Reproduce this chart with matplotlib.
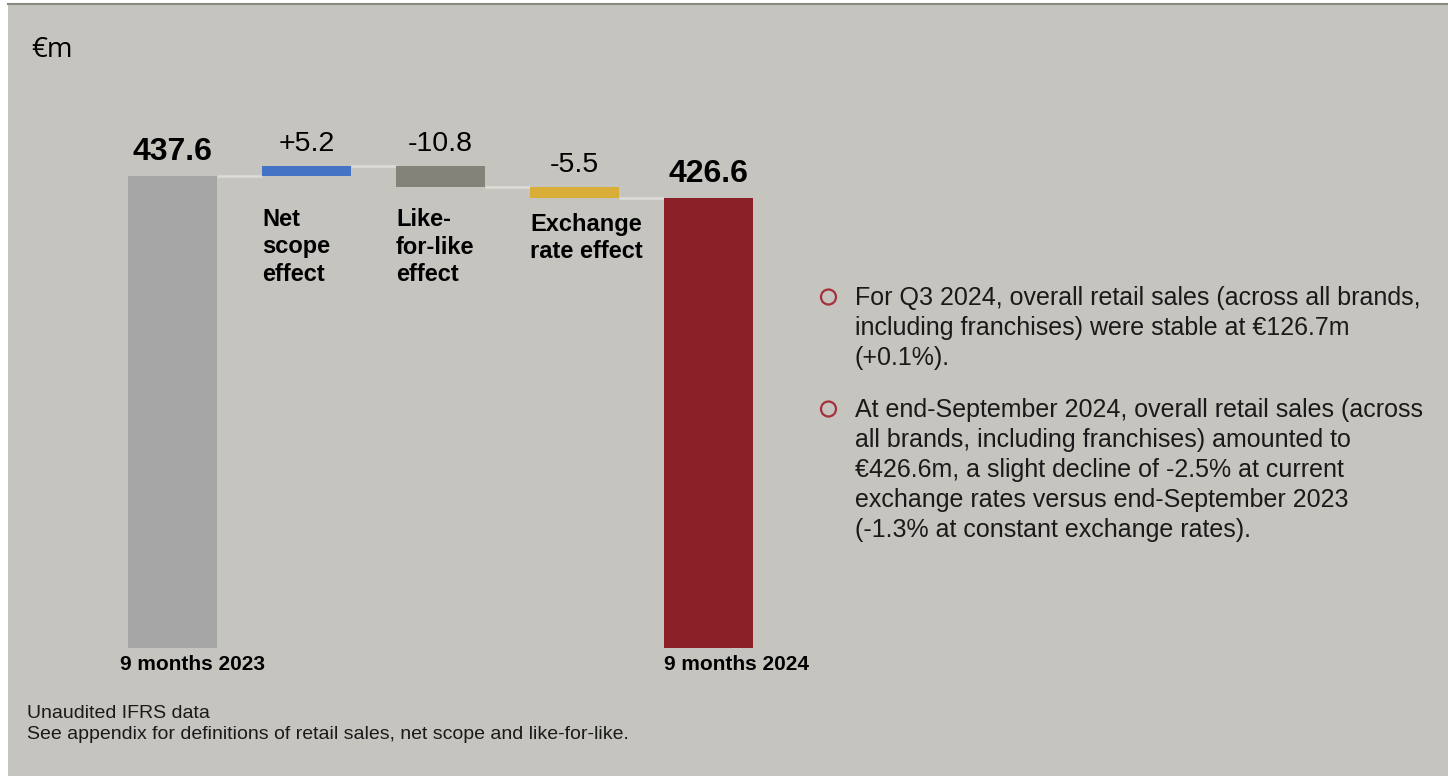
import matplotlib
matplotlib.use("Agg")
import matplotlib.pyplot as plt
from matplotlib.patches import Rectangle, Ellipse
from matplotlib.lines import Line2D
from matplotlib.transforms import blended_transform_factory

plt.rcParams['font.family'] = ['Liberation Sans', 'DejaVu Sans']

# Data (EUR m)
start_label = "9 months 2023"
end_label = "9 months 2024"
start_value = 437.6
end_value = 426.6
step_names = ["Net\nscope\neffect", "Like-\nfor-like\neffect", "Exchange\nrate effect"]
step_values = [5.2, -10.8, -5.5]
step_texts = ["+5.2", "-10.8", "-5.5"]
step_colors = ["#4472c4", "#84837a", "#d8ae36"]
bullets = [
    "For Q3 2024, overall retail sales (across all brands,\nincluding franchises) were stable at €126.7m\n(+0.1%).",
    "At end-September 2024, overall retail sales (across\nall brands, including franchises) amounted to\n€426.6m, a slight decline of -2.5% at current\nexchange rates versus end-September 2023\n(-1.3% at constant exchange rates).",
]
footnotes = ["Unaudited IFRS data",
             "See appendix for definitions of retail sales, net scope and like-for-like."]

W, H = 1448, 776
BG = "#c6c4bf"
fig = plt.figure(figsize=(W / 100, H / 100), dpi=100)
fig.patch.set_facecolor("white")

def fx(px):
    return px / W

def fy(py):
    return 1 - py / H

# slide background and top rule
fig.patches.append(Rectangle((fx(8), 0), 1 - fx(8), fy(5), transform=fig.transFigure,
                             facecolor=BG, edgecolor="none", zorder=-5))
fig.lines.append(Line2D([fx(8), 1], [fy(4), fy(4)], transform=fig.transFigure,
                        color="#858a7c", lw=1.5, zorder=-4))

# chart axes (value axis starts well above zero)
ax = fig.add_axes([fx(105.5), (H - 648) / H, fx(670), 548 / H])
ax.set_xlim(-0.5, 4.5)
ax.set_ylim(201.6, 475.6)
ax.axis("off")

bw = 0.665
x_pos = list(range(len(step_values) + 2))

# totals
ax.bar(x_pos[0], start_value, width=bw, color="#a6a6a6", zorder=2)
ax.bar(x_pos[-1], end_value, width=bw, color="#8b2029", zorder=2)

# steps
levels = [start_value]
for i, v in enumerate(step_values):
    base = levels[-1]
    ax.bar(x_pos[i + 1], v, bottom=base, width=bw, color=step_colors[i], zorder=2)
    levels.append(base + v)

# connectors
conn_levels = levels[:-1] + [end_value]
for i, lv in enumerate(conn_levels):
    ax.plot([x_pos[i] + bw / 2, x_pos[i + 1] - bw / 2], [lv, lv],
            color="#dedcd8", lw=1.8, zorder=1, solid_capstyle="butt")

# value labels
ax.annotate(f"{start_value:.1f}", (x_pos[0], start_value), xytext=(0, 6.5),
            textcoords="offset points", ha="center", va="bottom",
            fontsize=23, fontweight="bold", color="black")
ax.annotate(f"{end_value:.1f}", (x_pos[-1], end_value), xytext=(0, 6.5),
            textcoords="offset points", ha="center", va="bottom",
            fontsize=23, fontweight="bold", color="black")
for i, v in enumerate(step_values):
    top = max(levels[i], levels[i + 1])
    ax.annotate(step_texts[i], (x_pos[i + 1], top), xytext=(0, 6.5),
                textcoords="offset points", ha="center", va="bottom",
                fontsize=20.5, color="black")

# step category labels below bars
tr = blended_transform_factory(ax.transData, fig.transFigure)
label_tops = [208, 208, 213]
for i, name in enumerate(step_names):
    ax.text(x_pos[i + 1] - bw / 2, fy(label_tops[i]), name, transform=tr,
            ha="left", va="top", fontsize=17, fontweight="bold",
            linespacing=1.25, color="black")

# total labels below axis
fig.text(fx(120), fy(670), start_label, ha="left", va="baseline",
         fontsize=15, fontweight="bold", color="black")
fig.text(fx(664), fy(670), end_label, ha="left", va="baseline",
         fontsize=15, fontweight="bold", color="black")

# unit
fig.text(fx(31), fy(57), "€m", ha="left", va="baseline", fontsize=20,
         family=["Open Sans", "DejaVu Sans"], color="black")

# commentary bullets
bullet_baselines = [305, 417]
for b, yb in zip(bullets, bullet_baselines):
    fig.patches.append(Ellipse((fx(828.5), fy(yb - 8)), width=15 / W, height=15 / H,
                               transform=fig.transFigure, facecolor="none",
                               edgecolor="#a3303b", lw=1.6))
    for k, line in enumerate(b.split("\n")):
        fig.text(fx(855), fy(yb + 30 * k), line, ha="left", va="baseline",
                 fontsize=18, color="#1a1a1a")

# footnotes
for k, t in enumerate(footnotes):
    fig.text(fx(27), fy(718 + 21 * k), t, ha="left", va="baseline",
             fontsize=14, color="#1a1a1a")

fig.savefig("out.png", dpi=100, facecolor=fig.get_facecolor())
